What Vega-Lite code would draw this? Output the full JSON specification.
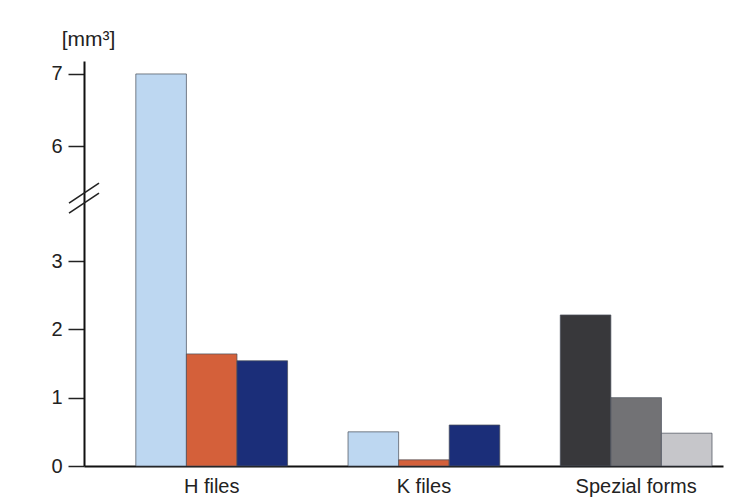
{
  "$schema": "https://vega.github.io/schema/vega-lite/v6.json",
  "autosize": "none",
  "width": 639,
  "height": 405,
  "padding": {"left": 84, "top": 61, "right": 20, "bottom": 32},
  "background": "white",
  "config": {
    "view": {"stroke": null},
    "font": "Liberation Sans"
  },
  "datasets": {
    "bars": [
      {"group": "H files", "pos": 1, "series": "H1", "value": 7.0},
      {"group": "H files", "pos": 2, "series": "H2", "value": 1.64},
      {"group": "H files", "pos": 3, "series": "H3", "value": 1.54},
      {"group": "K files", "pos": 1, "series": "H1", "value": 0.5},
      {"group": "K files", "pos": 2, "series": "H2", "value": 0.09},
      {"group": "K files", "pos": 3, "series": "H3", "value": 0.6},
      {"group": "Spezial forms", "pos": 1, "series": "S1", "value": 2.21},
      {"group": "Spezial forms", "pos": 2, "series": "S2", "value": 1.0},
      {"group": "Spezial forms", "pos": 3, "series": "S3", "value": 0.48}
    ],
    "breaks": [
      {"at": 0, "level": 4.77},
      {"at": 0, "level": 4.51}
    ]
  },
  "resolve": {"scale": {"x": "independent"}},
  "layer": [
    {
      "data": {"name": "bars"},
      "mark": {"type": "bar", "stroke": "#4a4f5a", "strokeWidth": 0.9, "strokeOpacity": 0.8},
      "encoding": {
        "x": {
          "field": "group",
          "type": "nominal",
          "sort": ["H files", "K files", "Spezial forms"],
          "scale": {"paddingInner": 0.285, "paddingOuter": 0.148, "align": 0.825},
          "axis": {
            "title": null,
            "labelAngle": 0,
            "ticks": false,
            "labelPadding": 10,
            "labelFontSize": 20,
            "labelColor": "#222",
            "domainColor": "#111",
            "domainWidth": 2
          }
        },
        "xOffset": {
          "field": "pos",
          "type": "ordinal",
          "scale": {"paddingInner": 0, "paddingOuter": 0}
        },
        "y": {
          "field": "value",
          "type": "quantitative",
          "scale": {"domain": [0, 3, 6, 7.18], "range": [405, 200, 85, 0], "nice": false, "zero": false},
          "axis": {
            "title": "[mm³]",
            "titleAngle": 0,
            "titleAlign": "center",
            "titleBaseline": "alphabetic",
            "titleX": 4,
            "titleY": -16,
            "titleFontSize": 21,
            "titleFontWeight": "normal",
            "titleColor": "#222",
            "values": [0, 1, 2, 3, 6, 7],
            "format": "d",
            "grid": false,
            "tickSize": 16,
            "tickWidth": 1.5,
            "tickColor": "#222",
            "labelPadding": 6,
            "labelFontSize": 20,
            "labelColor": "#222",
            "domainColor": "#111",
            "domainWidth": 2
          }
        },
        "color": {
          "field": "series",
          "type": "nominal",
          "scale": {
            "domain": ["H1", "H2", "H3", "S1", "S2", "S3"],
            "range": ["#bdd7f1", "#d4603a", "#1b2e79", "#38383b", "#727275", "#c6c6ca"]
          },
          "legend": null
        }
      }
    },
    {
      "data": {"name": "breaks"},
      "mark": {"type": "rule", "color": "#222", "strokeWidth": 1.5, "xOffset": -15, "x2Offset": 15, "yOffset": 10, "y2Offset": -10},
      "encoding": {
        "x": {"field": "at", "type": "quantitative", "scale": {"domain": [0, 1]}, "axis": null},
        "x2": {"field": "at"},
        "y": {"field": "level", "type": "quantitative"},
        "y2": {"field": "level"}
      }
    }
  ]
}
